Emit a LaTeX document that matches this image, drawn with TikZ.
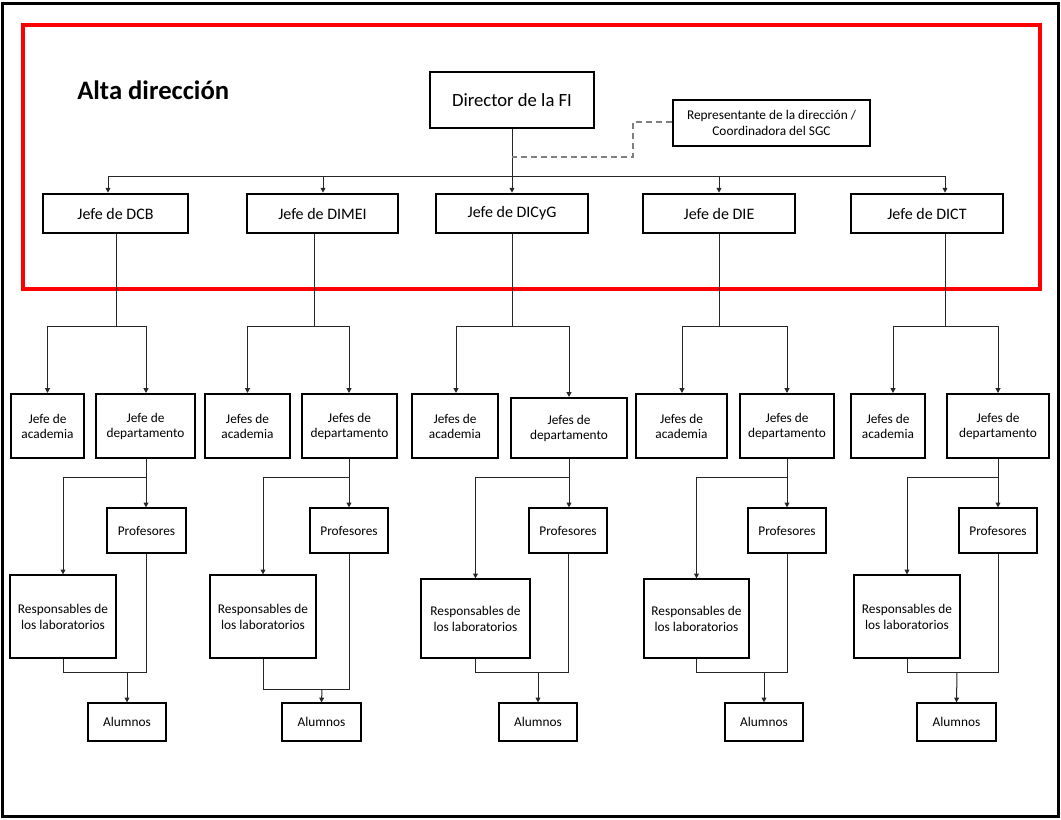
\documentclass[tikz,border=0pt]{standalone}
\usepackage{fontspec}
\setmainfont{Carlito}
\usetikzlibrary{arrows.meta}
\tikzset{
  sz/.style 2 args={minimum width=#1*0.75pt, minimum height=#2*0.75pt},
  base/.style={draw=black, fill=white, inner sep=0pt, align=center},
  topbox/.style={base, line width=2.2pt, font=\fontsize{14}{17}\selectfont},
  depbox/.style={base, line width=2pt, font=\fontsize{12}{14}\selectfont},
  midbox/.style={base, line width=1.5pt, font=\fontsize{10}{11.25}\selectfont},
  lowbox/.style={base, line width=0.9pt, font=\fontsize{10}{12}\selectfont},
  repbox/.style={base, line width=1.2pt, font=\fontsize{10}{11.8}\selectfont},
  conn/.style={draw=black!85, line width=0.75pt},
  arr/.style={conn, -{Triangle[length=3.6pt,width=3.6pt]}},
  dashconn/.style={draw=black!50, line width=1.4pt, dash pattern=on 4.5pt off 3pt},
}
\begin{document}
\begin{tikzpicture}[x={(0.75pt,0)}, y={(0,-0.75pt)}]
\useasboundingbox (0,0) rectangle (1061,819);
\fill[white] (0,0) rectangle (1061,819);
% frames
\draw[line width=2.25pt, black] (2.5,3.5) rectangle (1058.5,816.5);
\draw[line width=3pt, red] (22.5,25) rectangle (1040,288.5);
\node[anchor=base west, inner sep=0pt, font=\fontsize{20}{24}\selectfont\bfseries] (alta) at (77,99.5) {Alta dirección};

% top
\node[topbox, sz={164}{56}] (dir) at (512,100) {Director de la FI};
\node[repbox, sz={197}{46}] (rep) at (771.5,123) {Representante de la dirección /\\Coordinadora del SGC};

\node[depbox, sz={145}{39}] (dcb) at (115.5,213.5) {Jefe de DCB};
\node[depbox, sz={151}{39}] (dimei) at (322.5,213.5) {Jefe de DIMEI};
\node[depbox, sz={152}{39}] (dicyg) at (512,213.5) {Jefe de DICyG};
\node[depbox, sz={152}{39}] (die) at (719,213.5) {Jefe de DIE};
\node[depbox, sz={152}{39}] (dict) at (927,213.5) {Jefe de DICT};

\coordinate (busL) at (108,176);
\coordinate (busR) at (945,176);
\coordinate (busM) at (512,176);
\coordinate (bus2) at (323,176);
\coordinate (bus4) at (719,176);
\coordinate (dsh1) at (633,122);
\coordinate (dsh2) at (633,157);
\coordinate (dsh3) at (512,157);

\draw[conn] (busL) -- (busR);
\draw[conn] (dir.south) -- (busM);
\draw[arr] (busM) -- (dicyg.north);
\draw[arr] (busL) -- (busL |- dcb.north);
\draw[arr] (bus2) -- (bus2 |- dimei.north);
\draw[arr] (bus4) -- (bus4 |- die.north);
\draw[arr] (busR) -- (busR |- dict.north);
\draw[dashconn] (rep.west |- dsh1) -- (dsh1) -- (dsh2) -- (dsh3);

% ---------- column 1 ----------
\node[midbox, sz={73}{64}] (ac1) at (47.5,426) {Jefe de\\academia};
\node[midbox, sz={99}{64}] (de1) at (145.5,426) {Jefe de\\departamento};
\node[lowbox, sz={79}{45}] (pr1) at (146.5,530.5) {Profesores};
\node[lowbox, sz={106}{83}] (re1) at (63,616.5) {Responsables de\\los laboratorios};
\node[lowbox, sz={78}{38}] (al1) at (127,722) {Alumnos};
\coordinate (j1) at (116,326);
\coordinate (ja1) at (47.5,326);
\coordinate (jd1) at (146,326);
\coordinate (k1) at (146,477);
\coordinate (kr1) at (63,477);
\coordinate (m1) at (127,672);
\draw[conn] (dcb.south -| j1) -- (j1);
\draw[conn] (ja1) -- (jd1);
\draw[arr] (ja1) -- (ja1 |- ac1.north);
\draw[arr] (jd1) -- (jd1 |- de1.north);
\draw[conn] (de1.south -| k1) -- (k1) -- (kr1);
\draw[arr] (k1) -- (k1 |- pr1.north);
\draw[arr] (kr1) -- (re1.north);
\draw[conn] (re1.south) -- (re1.south |- m1) -- (pr1.south |- m1) -- (pr1.south);
\draw[arr] (m1) -- (al1.north);

% ---------- column 2 ----------
\node[midbox, sz={85}{64}] (ac2) at (247.5,426) {Jefes de\\academia};
\node[midbox, sz={95}{64}] (de2) at (349.5,426) {Jefes de\\departamento};
\node[lowbox, sz={78}{45}] (pr2) at (349,530.5) {Profesores};
\node[lowbox, sz={106}{83}] (re2) at (263,616.5) {Responsables de\\los laboratorios};
\node[lowbox, sz={79}{38}] (al2) at (321.5,722) {Alumnos};
\coordinate (j2) at (314,326);
\coordinate (ja2) at (247.5,326);
\coordinate (jd2) at (349,326);
\coordinate (k2) at (349,477);
\coordinate (kr2) at (263,477);
\coordinate (m2) at (322,689);
\draw[conn] (dimei.south -| j2) -- (j2);
\draw[conn] (ja2) -- (jd2);
\draw[arr] (ja2) -- (ja2 |- ac2.north);
\draw[arr] (jd2) -- (jd2 |- de2.north);
\draw[conn] (de2.south -| k2) -- (k2) -- (kr2);
\draw[arr] (k2) -- (k2 |- pr2.north);
\draw[arr] (kr2) -- (re2.north);
\draw[conn] (re2.south) -- (re2.south |- m2) -- (pr2.south |- m2) -- (pr2.south);
\draw[arr] (m2) -- (al2.north);

% ---------- column 3 ----------
\node[midbox, sz={86}{64}] (ac3) at (455,426) {Jefes de\\academia};
\node[midbox, sz={116}{60}] (de3) at (569,428) {Jefes de\\departamento};
\node[lowbox, sz={78}{45}] (pr3) at (568,530.5) {Profesores};
\node[lowbox, sz={109}{79}] (re3) at (475.5,618.5) {Responsables de\\los laboratorios};
\node[lowbox, sz={78}{38}] (al3) at (538,722) {Alumnos};
\coordinate (j3) at (512,326);
\coordinate (ja3) at (456,326);
\coordinate (jd3) at (569,326);
\coordinate (k3) at (569,477);
\coordinate (kr3) at (475.5,477);
\coordinate (m3) at (538,672);
\draw[conn] (dicyg.south) -- (j3);
\draw[conn] (ja3) -- (jd3);
\draw[arr] (ja3) -- (ja3 |- ac3.north);
\draw[arr] (jd3) -- (jd3 |- de3.north);
\draw[conn] (de3.south -| k3) -- (k3) -- (kr3);
\draw[arr] (k3) -- (k3 |- pr3.north);
\draw[arr] (kr3) -- (re3.north);
\draw[conn] (re3.south) -- (re3.south |- m3) -- (pr3.south |- m3) -- (pr3.south);
\draw[arr] (m3) -- (al3.north);

% ---------- column 4 ----------
\node[midbox, sz={91}{64}] (ac4) at (681.5,426) {Jefes de\\academia};
\node[midbox, sz={94}{64}] (de4) at (787,426) {Jefes de\\departamento};
\node[lowbox, sz={78}{45}] (pr4) at (787,530.5) {Profesores};
\node[lowbox, sz={105}{79}] (re4) at (696.5,618.5) {Responsables de\\los laboratorios};
\node[lowbox, sz={78}{38}] (al4) at (764,722) {Alumnos};
\coordinate (j4) at (719,326);
\coordinate (ja4) at (682,326);
\coordinate (jd4) at (787,326);
\coordinate (k4) at (787,477);
\coordinate (kr4) at (696.5,477);
\coordinate (m4) at (764,672);
\draw[conn] (die.south) -- (j4);
\draw[conn] (ja4) -- (jd4);
\draw[arr] (ja4) -- (ja4 |- ac4.north);
\draw[arr] (jd4) -- (jd4 |- de4.north);
\draw[conn] (de4.south -| k4) -- (k4) -- (kr4);
\draw[arr] (k4) -- (k4 |- pr4.north);
\draw[arr] (kr4) -- (re4.north);
\draw[conn] (re4.south) -- (re4.south |- m4) -- (pr4.south |- m4) -- (pr4.south);
\draw[arr] (m4) -- (al4.north);

% ---------- column 5 ----------
\node[midbox, sz={74}{64}] (ac5) at (888,426) {Jefes de\\academia};
\node[midbox, sz={102}{64}] (de5) at (998,426) {Jefes de\\departamento};
\node[lowbox, sz={78}{45}] (pr5) at (998,530.5) {Profesores};
\node[lowbox, sz={106}{83}] (re5) at (907,616.5) {Responsables de\\los laboratorios};
\node[lowbox, sz={79}{38}] (al5) at (956.5,722) {Alumnos};
\coordinate (j5) at (945,326);
\coordinate (ja5) at (893,326);
\coordinate (jd5) at (998,326);
\coordinate (k5) at (998,477);
\coordinate (kr5) at (907,477);
\coordinate (m5) at (957,672);
\draw[conn] (dict.south -| j5) -- (j5);
\draw[conn] (ja5) -- (jd5);
\draw[arr] (ja5) -- (ja5 |- ac5.north);
\draw[arr] (jd5) -- (jd5 |- de5.north);
\draw[conn] (de5.south -| k5) -- (k5) -- (kr5);
\draw[arr] (k5) -- (k5 |- pr5.north);
\draw[arr] (kr5) -- (re5.north);
\draw[conn] (re5.south) -- (re5.south |- m5) -- (pr5.south |- m5) -- (pr5.south);
\draw[arr] (m5) -- (al5.north);
\end{tikzpicture}
\end{document}
